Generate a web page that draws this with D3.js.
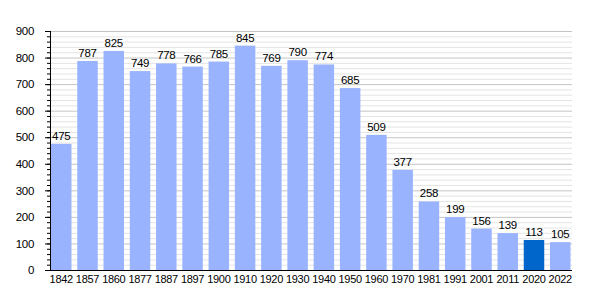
<!DOCTYPE html>
<html>
<head>
<meta charset="utf-8">
<script src="https://cdn.jsdelivr.net/npm/d3@7"></script>
<style>
  body { margin: 0; background: #fff; }
  text { font-family: "Liberation Sans", Arial, sans-serif; letter-spacing: -0.3px; }
</style>
</head>
<body>
<svg id="chart"></svg>
<script>
const years = ['1842', '1857', '1860', '1877', '1887', '1897', '1900', '1910', '1920', '1930',
    '1940', '1950', '1960', '1970', '1981', '1991', '2001', '2011', '2020', '2022']
const population = [475, 787, 825, 749, 778, 766, 785, 845, 769, 790,
    774, 685, 509, 377, 258, 199, 156, 139, 113, 105]
const highlightYear = '2020'
const yTicks = [0, 100, 200, 300, 400, 500, 600, 700, 800, 900]

const width = 600
const height = 300
const margin = { top: 31, right: 28, bottom: 30, left: 50 }
const innerW = width - margin.left - margin.right
const innerH = height - margin.top - margin.bottom

const svg = d3.select('#chart')
    .attr('width', width)
    .attr('height', height)

const g = svg.append('g')
    .attr('transform', `translate(${margin.left},${margin.top})`)

const x = d3.scaleBand()
    .domain(years)
    .range([1, innerW - 1.5])
    .paddingInner(0.22)
    .paddingOuter(0)

const y = d3.scaleLinear()
    .domain([0, 900])
    .range([innerH, 0])

// minor grid every 20
g.append('g')
    .selectAll('line')
    .data(d3.range(0, 901, 20).filter(v => v % 100 !== 0))
    .join('line')
    .attr('x1', 0)
    .attr('x2', innerW)
    .attr('y1', d => y(d) + 0.5)
    .attr('y2', d => y(d) + 0.5)
    .attr('stroke', '#e4e4e4')

// major grid
g.append('g')
    .selectAll('line')
    .data(yTicks.slice(1))
    .join('line')
    .attr('x1', 0)
    .attr('x2', innerW)
    .attr('y1', d => y(d) + 0.5)
    .attr('y2', d => y(d) + 0.5)
    .attr('stroke', '#c4c4c4')

g.selectAll('rect.bar')
    .data(years)
    .join('rect')
    .attr('class', 'bar')
    .attr('x', d => x(d))
    .attr('width', x.bandwidth())
    .attr('y', (d, i) => y(population[i]))
    .attr('height', (d, i) => innerH - y(population[i]))
    .attr('fill', d => d === highlightYear ? '#0066cc' : '#99b3ff')

g.selectAll('text.val')
    .data(years)
    .join('text')
    .attr('class', 'val')
    .attr('x', d => x(d) + x.bandwidth() / 2)
    .attr('y', (d, i) => y(population[i]) - 4)
    .attr('text-anchor', 'middle')
    .attr('font-size', 11.5)
    .text((d, i) => population[i])

// y axis with minor ticks
const yAxis = g.append('g')
g.append('g')
    .call(d3.axisLeft(y).tickValues(d3.range(0, 901, 20)).tickSize(3).tickFormat(''))
    .call(a => a.select('.domain').remove())
yAxis.call(d3.axisLeft(y).tickValues(yTicks).tickSize(5).tickPadding(11))
yAxis.selectAll('text').attr('font-size', 11.5).attr('fill', '#000')
yAxis.selectAll('line').attr('stroke', '#000')
yAxis.select('.domain').attr('stroke', '#000').attr('d', `M0.5,0V${innerH}`)

const xAxis = g.append('g')
    .attr('transform', `translate(0,${innerH})`)
    .call(d3.axisBottom(x).tickSize(0).tickPadding(5))
xAxis.select('.domain').attr('stroke', '#000').attr('d', `M0,0.5H${innerW}`)
xAxis.selectAll('text').attr('font-size', 11).attr('fill', '#000')
</script>
</body>
</html>
